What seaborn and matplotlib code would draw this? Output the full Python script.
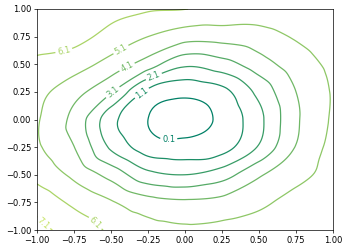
import numpy as np
import matplotlib
matplotlib.use("Agg")
import matplotlib.pyplot as plt
import matplotlib.tri as mtri
from matplotlib.ticker import MultipleLocator
import seaborn as sns

# grid positions (same spacing as the ticks)
x_grid = [-1.0, -0.75, -0.5, -0.25, 0.0, 0.25, 0.5, 0.75, 1.0]
y_grid = [-1.0, -0.75, -0.5, -0.25, 0.0, 0.25, 0.5, 0.75, 1.0]

# field values, one row per y (bottom to top)
z_ym100 = [7.4, 6.7, 5.95, 5.5, 5.3, 5.4, 5.6, 5.85, 6.0]
z_ym075 = [6.75, 5.9, 5.2, 4.5, 4.27, 4.42, 4.86, 5.5, 5.8]
z_ym050 = [5.8, 4.87, 3.75, 2.4, 2.1, 2.65, 3.97, 4.76, 5.45]
z_ym025 = [5.25, 4.12, 1.95, 0.6, 0.45, 0.7, 2.2, 4.15, 5.4]
z_y000 = [5.2, 3.8, 1.45, 0.1, -0.25, 0.32, 1.85, 3.94, 5.25]
z_yp025 = [5.4, 4.46, 3.2, 0.85, 0.35, 0.8, 2.38, 4.1, 5.2]
z_yp050 = [5.9, 5.55, 4.7, 3.6, 2.3, 2.7, 3.65, 4.6, 5.35]
z_yp075 = [6.5, 6.4, 5.77, 5.1, 4.5, 4.5, 4.7, 5.2, 5.6]
z_yp100 = [6.9, 6.8, 6.4, 6.2, 6.12, 5.95, 5.7, 5.8, 5.95]

levels = [0.1, 1.1, 2.1, 3.1, 4.1, 5.1, 6.1, 7.1]

sns.set_style("ticks")
plt.rcParams['font.family'] = ['DejaVu Sans']
plt.rcParams['font.size'] = 6
plt.rcParams['axes.linewidth'] = 0.5
plt.rcParams['axes.edgecolor'] = 'black'
plt.rcParams['xtick.color'] = 'black'
plt.rcParams['ytick.color'] = 'black'
plt.rcParams['xtick.major.size'] = 2.1
plt.rcParams['ytick.major.size'] = 2.1
plt.rcParams['xtick.major.width'] = 0.5
plt.rcParams['ytick.major.width'] = 0.5
plt.rcParams['xtick.major.pad'] = 2.1
plt.rcParams['ytick.major.pad'] = 2.1

Z = np.array([z_ym100, z_ym075, z_ym050, z_ym025, z_y000,
              z_yp025, z_yp050, z_yp075, z_yp100])
X, Y = np.meshgrid(x_grid, y_grid)

# two triangles per grid cell
nx, ny = len(x_grid), len(y_grid)
tris = []
for j in range(ny - 1):
    for i in range(nx - 1):
        a = j * nx + i
        tris.append([a, a + 1, a + nx + 1])
        tris.append([a, a + nx + 1, a + nx])
tri = mtri.Triangulation(X.ravel(), Y.ravel(), np.array(tris))
interp = mtri.CubicTriInterpolator(tri, Z.ravel(), kind='geom')
tri_f, z_f = mtri.UniformTriRefiner(tri).refine_field(Z.ravel(), triinterpolator=interp, subdiv=4)

fig = plt.figure(figsize=(3.49, 2.5), dpi=100)
ax = fig.add_axes([37 / 349, 20 / 250, 296 / 349, 221 / 250])

cs = ax.tricontour(tri_f, z_f, levels=levels, cmap='summer', vmin=0.1, vmax=9.1,
                   linewidths=0.9)
label_spots = [(-0.11, -0.16), (-0.28, 0.22), (-0.22, 0.42), (-0.49, 0.25),
               (-0.39, 0.47), (-0.44, 0.65), (-0.82, 0.63), (-0.6, -0.93),
               (-0.95, -0.93)]
ax.clabel(cs, fmt='%1.1f', fontsize=6, inline=True, inline_spacing=2, manual=label_spots)

ax.set_xlim(-1, 1)
ax.set_ylim(-1, 1)
ax.xaxis.set_major_locator(MultipleLocator(0.25))
ax.yaxis.set_major_locator(MultipleLocator(0.25))

fig.savefig('out.png', dpi=100)
